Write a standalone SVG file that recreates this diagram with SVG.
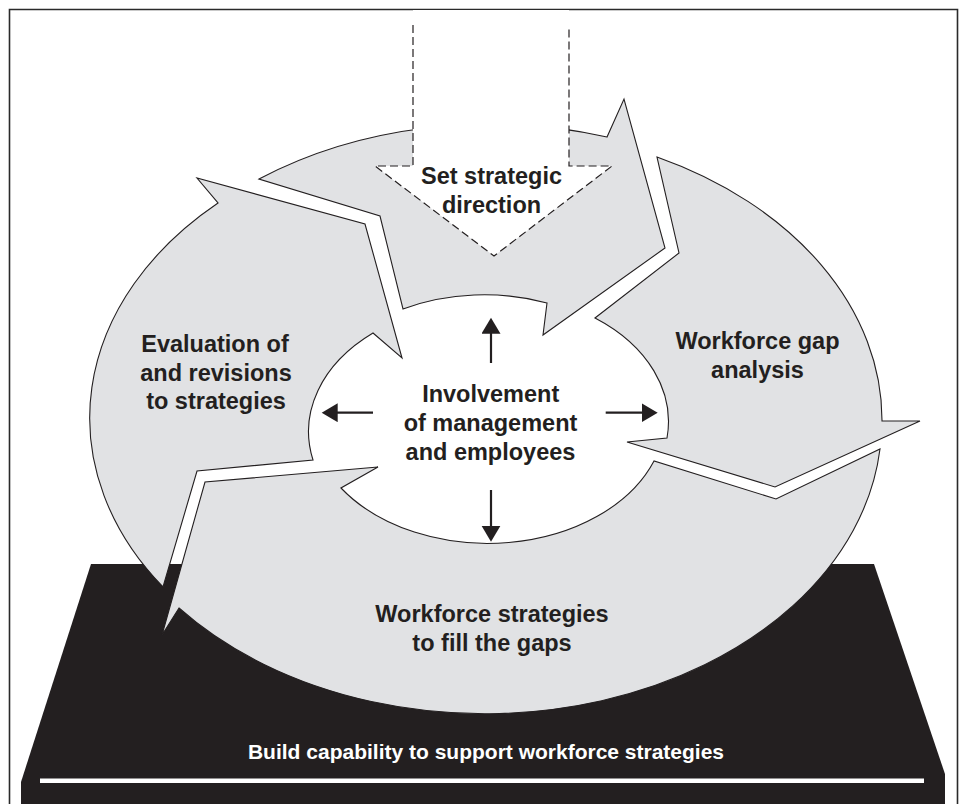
<svg xmlns="http://www.w3.org/2000/svg" width="964" height="804" viewBox="0 0 964 804">
<defs>
<style>
.seg{fill:#e1e2e4;stroke:#231f20;stroke-width:1.1;stroke-linejoin:miter}
.lbl{font-family:"Liberation Sans",Arial,sans-serif;font-weight:bold;font-size:23.5px;fill:#231f20;text-anchor:middle}
.base{font-family:"Liberation Sans",Arial,sans-serif;font-weight:bold;font-size:21px;fill:#ffffff;text-anchor:middle}
.conn{stroke:#231f20;stroke-width:2.2;fill:none}
</style>
<marker id="ah" markerUnits="userSpaceOnUse" markerWidth="17" markerHeight="20" refX="8" refY="9.5" orient="auto">
<path d="M0,0 L16,9.5 L0,19 Z" fill="#231f20"/>
</marker>
</defs>
<rect width="964" height="804" fill="#ffffff"/>
<path d="M9.5,804 V9.5 H957.5 V804" fill="none" stroke="#2a2a2a" stroke-width="1.6"/>

<g id="platform">
<polygon points="91,564 874,564 945,774 945,804 21,804 21,782" fill="#231f20"/>
<rect x="40" y="778.5" width="884" height="4.5" fill="#ffffff"/>
<text class="base" x="486" y="759">Build capability to support workforce strategies</text>
</g>

<g id="segment-top">
<path class="seg" d="M259,179 A397,292 0 0 1 607,137 L624,99 L665,248 L543,335 L547,303 A178,128 0 0 0 403,309 L380,216 Z"/>
</g>
<g id="segment-right">
<path class="seg" d="M657,157 A397,292 0 0 1 882,421 L920,421 L775,487 L627,442 L667,438 A178,128 0 0 0 595,318 L679,253 Z"/>
<text class="lbl" x="757.5" y="348.7">Workforce gap</text>
<text class="lbl" x="757.5" y="377.7">analysis</text>
</g>
<g id="segment-bottom">
<path class="seg" d="M880,449 A397,292 0 0 1 179,608 L162,635 L205,482 L378,467 L341,488 A178,128 0 0 0 654,461 L776,499 Z"/>
<text class="lbl" x="492" y="622">Workforce strategies</text>
<text class="lbl" x="492" y="651">to fill the gaps</text>
</g>
<g id="segment-left">
<path class="seg" d="M163,587 A397,292 0 0 1 218,203 L197,178 L365,224 L402,358 L373,333 A178,128 0 0 0 313,460 L197,471 Z"/>
<text class="lbl" x="215" y="351.7">Evaluation of</text>
<text class="lbl" x="216" y="380.7">and revisions</text>
<text class="lbl" x="216" y="409">to strategies</text>
</g>

<g id="direction">
<polygon points="413,10 413,166 375,166 494,256 612,166 569,166 569,10" fill="#ffffff"/>
<polyline points="413,25 413,166 375,166 494,256 612,166 569,166 569,29" fill="none" stroke="#231f20" stroke-width="1.2" stroke-dasharray="8,4"/>
<text class="lbl" x="491.5" y="184.3">Set strategic</text>
<text class="lbl" x="491.5" y="212.7">direction</text>
</g>

<g id="center">
<text class="lbl" x="490.7" y="401.7">Involvement</text>
<text class="lbl" x="490.5" y="431">of management</text>
<text class="lbl" x="490.5" y="460">and employees</text>
</g>

<g id="connectors">
<line class="conn" x1="491" y1="363" x2="491" y2="325.7" marker-end="url(#ah)"/>
<line class="conn" x1="491" y1="490" x2="491" y2="533.7" marker-end="url(#ah)"/>
<line class="conn" x1="373" y1="412.7" x2="329.7" y2="412.7" marker-end="url(#ah)"/>
<line class="conn" x1="605.7" y1="412.7" x2="649.7" y2="412.7" marker-end="url(#ah)"/>
</g>
</svg>
